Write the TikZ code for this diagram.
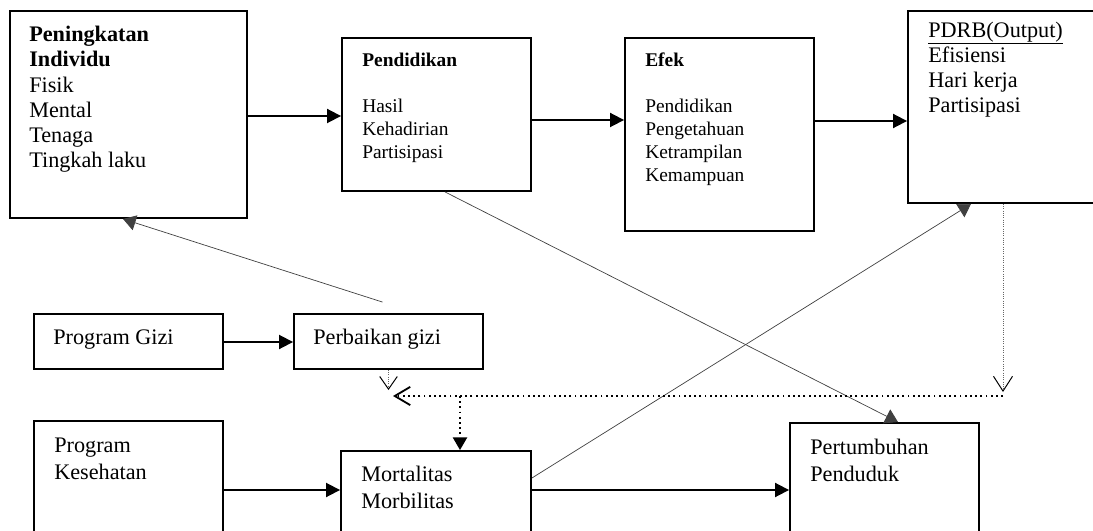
\documentclass[tikz,border=0pt]{standalone}
\usepackage{fontspec}
\setmainfont{Liberation Serif}
\usetikzlibrary{arrows.meta, calc}

\begin{document}
\begin{tikzpicture}[x=0.025cm,y=-0.025cm,
    box/.style={rectangle,draw,line width=1.3pt,inner sep=0pt},
    txt/.style={anchor=base west,align=left,inner sep=0pt,font=\fontsize{15.8}{18}\selectfont},
    txtlow/.style={txt,font=\fontsize{15.8}{19.2}\selectfont},
    txtsmall/.style={anchor=base west,align=left,inner sep=0pt,font=\fontsize{13.8}{16.4}\selectfont},
    arr/.style={-{Triangle[length=10pt,width=10pt]},line width=1.3pt},
    lnk/.style={-{Triangle[length=9pt,width=11pt]},line width=0.5pt,black!75},
    dotthin/.style={line width=0.6pt,densely dotted,black!60},
    dotthick/.style={line width=1.4pt,dash pattern=on 1.3pt off 2.4pt}]
    \useasboundingbox (0,0) rectangle (1093,531);

    % Riga superiore (testi ancorati all'ultima riga)
    \node[box,minimum width=5.925cm,minimum height=5.175cm] (ind) at (128.5,114.5) {};
    \node[txt] (indtxt) at (29,168) {\textbf{Peningkatan}\\\textbf{Individu}\\Fisik\\Mental\\Tenaga\\Tingkah laku};

    \node[box,minimum width=4.725cm,minimum height=3.825cm] (pend) at (436.5,114.5) {};
    \node[txtsmall] (pendtxt) at (362,159) {\textbf{Pendidikan}\\[16.4pt]Hasil\\Kehadirian\\Partisipasi};

    \node[box,minimum width=4.725cm,minimum height=4.825cm] (efek) at (719.5,134.5) {};
    \node[txtsmall] (efektxt) at (645,182) {\textbf{Efek}\\[16.4pt]Pendidikan\\Pengetahuan\\Ketrampilan\\Kemampuan};

    \node[box,minimum width=5.05cm,minimum height=4.8cm] (pdrb) at (1009,107) {};
    \node[txt] (pdrbtxt) at (928,113) {\underline{PDRB(Output)}\\Efisiensi\\Hari kerja\\Partisipasi};

    % Gizi
    \node[box,minimum width=4.725cm,minimum height=1.375cm] (gizi) at (128.5,341.5) {};
    \node[txt] (gizitxt) at (53,345) {Program Gizi};
    \node[box,minimum width=4.725cm,minimum height=1.375cm] (perb) at (388.5,341.5) {};
    \node[txt] (perbtxt) at (313,345) {Perbaikan gizi};

    % Riga inferiore
    \node[box,minimum width=4.725cm,minimum height=3.475cm] (kes) at (128.5,490.5) {};
    \node[txtlow] (kestxt) at (54,479) {Program\\Kesehatan};
    \node[box,minimum width=4.75cm,minimum height=2.725cm] (mort) at (436,505.5) {};
    \node[txtlow] (morttxt) at (361,508) {Mortalitas\\Morbilitas};
    \node[box,minimum width=4.725cm,minimum height=3.425cm] (pert) at (884.5,491.5) {};
    \node[txtlow] (perttxt) at (810,481) {Pertumbuhan\\Penduduk};

    % Punti liberi
    \coordinate (pdrbdrop) at (1003,392);
    \coordinate (jr) at (1003,396);
    \coordinate (jl) at (393,396);
    \coordinate (jm) at (460,396);
    \coordinate (perbdrop) at (388.5,390);

    % Connessioni
    \draw[arr] (ind.east |- 0,116) -- (pend.west |- 0,116);
    \draw[arr] (pend.east |- 0,120) -- (efek.west |- 0,120);
    \draw[arr] (efek.east |- 0,121) -- (pdrb.west |- 0,121);
    \draw[arr] (gizi.east |- 0,342) -- (perb.west |- 0,342);
    \draw[arr] (kes.east |- 0,490) -- (mort.west |- 0,490);
    \draw[arr] (mort.east |- 0,490) -- (pert.west |- 0,490);

    \draw[lnk] ($(perb.north)+(-6,-11)$) -- (ind.south -| 123,0);
    \draw[lnk] (pend.south -| 445,0) -- (pert.north -| 898,0);
    \draw[lnk] (mort.east |- 0,478) -- (pdrb.south -| 971,0);

    % Linee tratteggiate
    \draw[dotthin,-{Straight Barb[length=10.5pt,width=13.5pt,line width=0.7pt,color=black]}] (pdrb.south -| jr) -- (pdrbdrop);
    \draw[dotthin,-{Straight Barb[length=9pt,width=12.5pt,line width=0.7pt,color=black]}] (perb.south) -- (perbdrop);
    \draw[dotthick,-{Straight Barb[length=11pt,width=13pt,line width=1.3pt]}] (jr) -- (jl);
    \draw[dotthick,-{Triangle[length=9pt,width=10pt]}] (jm) -- (mort.north -| jm);
\end{tikzpicture}
\end{document}
